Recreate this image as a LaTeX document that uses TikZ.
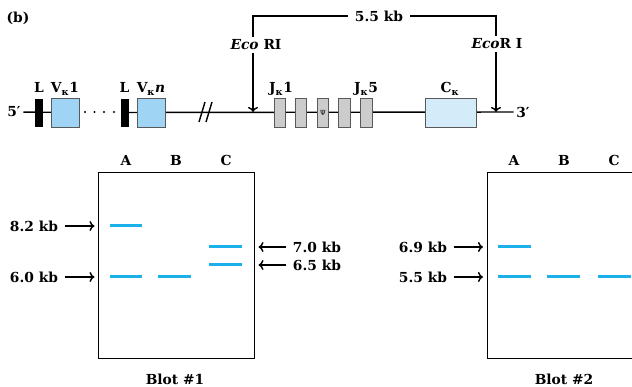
\documentclass[tikz,border=0pt]{standalone}
\usepackage{fontspec}
\setmainfont{DejaVu Serif}
\usepackage{tikz}
\usetikzlibrary{arrows.meta}
\definecolor{vblue}{RGB}{160,212,245}
\definecolor{cblue}{RGB}{212,236,250}
\definecolor{jgray}{RGB}{204,204,204}
\definecolor{bandc}{RGB}{28,176,235}
\newcommand{\kp}{\textsubscript{κ}}

\begin{document}
\begin{tikzpicture}[x=1pt, y=-1pt, line width=1.4pt, >={To[length=5pt, width=10pt]},
	every node/.style={font=\fontsize{13.8}{15}\selectfont\bfseries, inner sep=2pt},
	seg/.style={draw=black!65, line width=0.7pt, inner sep=0pt, minimum height=29pt},
	lseg/.style={draw, fill=black, line width=0.6pt, inner sep=0pt, minimum width=7pt, minimum height=27pt},
	vseg/.style={seg, fill=vblue, minimum width=28pt},
	jseg/.style={seg, fill=jgray, minimum width=11.5pt},
	cseg/.style={seg, fill=cblue, minimum width=51pt},
	lbl/.style={anchor=base},
	band/.style={bandc, line width=3pt},
	gel/.style={draw, line width=1pt, inner sep=0pt, minimum width=156pt, minimum height=186pt}]
	\useasboundingbox (0,0) rectangle (632,387);
	\node (tag) at (18,18) {(b)};
	% gene
	\node (p5) at (14,112) {5′};
	\node (p3) at (523,112) {3′};
	\node[lseg] (L1) at (39,112.5) {};
	\node[vseg] (V1) at (65,112.5) {};
	\node[lseg] (L2) at (124.5,112.5) {};
	\node[vseg] (Vn) at (151,112.5) {};
	\draw (p5) -- (V1.east);
	\draw (L2.center) -- (p3);
	\node[lseg] at (L1) {};
	\node[vseg] at (V1) {};
	\node[lseg] at (L2) {};
	\node[vseg] at (Vn) {};
	\foreach \x in {85,94.5,104,114} \fill (\x,112) circle (1.1pt);
	\draw (199,122) -- (205,102);
	\draw (206,122) -- (212,102);
	\foreach \x [count=\i] in {280,301,323,344.5,366.5} \node[jseg] (J\i) at (\x,112.5) {};
	\node[font=\fontsize{7}{7}\selectfont] at (J3) {Ψ};
	\node[cseg] (Ck) at (450.5,112.5) {};
	\node[lbl] at (39,93) {L};
	\node[lbl] at (65,93) {V\kp1};
	\node[lbl] at (124.5,93) {L};
	\node[lbl] at (151,93) {V\kp\textit{n}};
	\node[lbl] at (281,93) {J\kp1};
	\node[lbl] at (366,93) {J\kp5};
	\node[lbl] at (450,93) {C\kp};
	% EcoRI sites
	\coordinate (cut1) at (253,112);
	\coordinate (cut2) at (496,112);
	\coordinate (b1) at (253,16);
	\coordinate (b2) at (496,16);
	\node (eco1) at (256,45) {\textit{Eco} RI};
	\node (eco2) at (497,44) {\textit{Eco}R I};
	\draw[->] (cut1 |- eco1.south) -- (cut1);
	\draw[->] (cut2 |- eco2.south) -- (cut2);
	\draw (cut1 |- eco1.north) -- (b1) -- (b2) -- (cut2 |- eco2.north);
	\node[fill=white, inner xsep=7pt] (len) at (379,16) {5.5 kb};
	% blot 1
	\node[gel] (blot1) at (176,266) {};
	\foreach \x/\t in {126/A,176/B,226/C} \node[lbl] at (\x,166) {\t};
	\draw[band] (110,226) -- (142,226);
	\draw[band] (110,277) -- (142,277);
	\draw[band] (158,277) -- (191,277);
	\draw[band] (209,247) -- (242,247);
	\draw[band] (209,265) -- (242,265);
	\node (k82) at (34,226) {8.2 kb};
	\node (k60) at (34,277) {6.0 kb};
	\node (k70) at (317,247) {7.0 kb};
	\node (k65) at (317,265) {6.5 kb};
	\draw[->, shorten <=4pt, shorten >=3pt] (k82) -- (blot1.west |- k82);
	\draw[->, shorten <=4pt, shorten >=3pt] (k60) -- (blot1.west |- k60);
	\draw[->, shorten <=4pt, shorten >=4pt] (k70) -- (blot1.east |- k70);
	\draw[->, shorten <=4pt, shorten >=4pt] (k65) -- (blot1.east |- k65);
	\node (cap1) at (175,379) {Blot \#1};
	% blot 2
	\coordinate (g2a) at (632,173);
	\coordinate (g2b) at (487,173);
	\coordinate (g2c) at (487,359);
	\coordinate (g2d) at (632,359);
	\draw[line width=1pt] (g2a) -- (g2b) -- (g2c) -- (g2d);
	\foreach \x/\t in {514/A,564/B,614/C} \node[lbl] at (\x,166) {\t};
	\draw[band] (498,247) -- (531,247);
	\draw[band] (498,277) -- (531,277);
	\draw[band] (547,277) -- (580,277);
	\draw[band] (598,277) -- (631,277);
	\node (k69) at (423,247) {6.9 kb};
	\node (k55) at (423,277) {5.5 kb};
	\draw[->, shorten <=4pt, shorten >=4pt] (k69) -- (g2b |- k69);
	\draw[->, shorten <=4pt, shorten >=4pt] (k55) -- (g2b |- k55);
	\node (cap2) at (564,379) {Blot \#2};
\end{tikzpicture}
\end{document}
